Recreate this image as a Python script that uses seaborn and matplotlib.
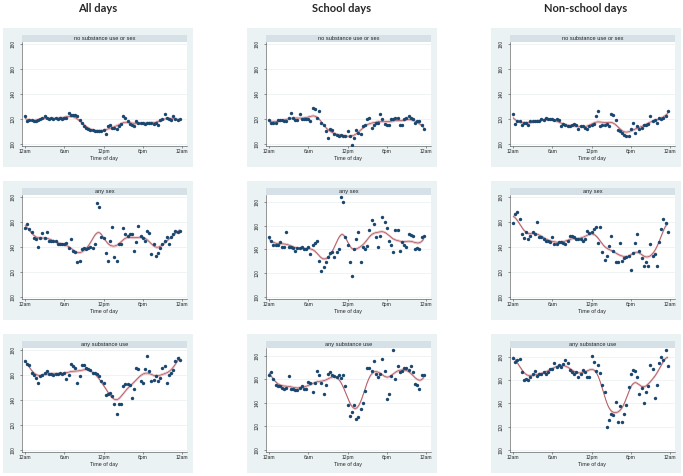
import matplotlib
matplotlib.use("Agg")
import matplotlib.pyplot as plt
from matplotlib.patches import Rectangle
import numpy as np
import seaborn as sns

# heart rate readings, three per hour (12am, 12:20am, 12:40am, ...)
all_none = [122, 118, 119, 119, 118, 118, 119, 120, 121, 122, 121, 120,
            121, 120, 121, 120, 121, 120, 121, 121, 125, 123, 123, 123,
            122, 119, 117, 114, 113, 112, 111, 111, 110, 110, 110, 110,
            111, 108, 114, 115, 113, 113, 112, 114, 116, 122, 121, 118,
            116, 115, 114, 118, 117, 117, 117, 116, 117, 117, 117, 116,
            117, 115, 119, 120, 124, 121, 120, 119, 122, 120, 119, 120]
school_none = [119, 117, 117, 117, 119, 119, 119, 118, 118, 121, 125, 121,
               119, 119, 124, 120, 120, 120, 120, 118, 129, 128, 121, 126,
               117, 115, 110, 105, 112, 111, 108, 107, 106, 107, 106, 106,
               110, 106, 99, 105, 111, 109, 108, 114, 115, 120, 121, 113,
               115, 117, 117, 124, 120, 116, 115, 115, 120, 120, 121, 121,
               115, 115, 120, 121, 122, 121, 120, 117, 118, 118, 115, 112]
nonschool_none = [124, 116, 118, 118, 115, 117, 117, 115, 118, 118, 118, 118,
                  118, 120, 119, 121, 120, 120, 120, 119, 120, 119, 114, 116,
                  115, 114, 114, 115, 116, 115, 112, 114, 114, 113, 112, 114,
                  115, 116, 122, 126, 114, 115, 115, 116, 114, 124, 123, 119,
                  111, 110, 109, 107, 106, 106, 112, 117, 109, 114, 112, 113,
                  115, 115, 116, 122, 118, 119, 117, 121, 120, 121, 122, 126]

all_sex = [155, 158, 154, 152, 147, 146, 140, 147, 151, 147, 152, 145,
           145, 145, 145, 142, 142, 142, 142, 143, 139, 146, 137, 136,
           128, 129, 138, 139, 138, 139, 140, 139, 142, 175, 172, 148,
           147, 135, 129, 145, 156, 132, 129, 142, 142, 155, 150, 149,
           150, 150, 137, 144, 157, 149, 147, 145, 153, 151, 134, 142,
           133, 135, 139, 142, 145, 148, 142, 148, 150, 153, 152, 153]
school_sex = [150, 147, 144, 144, 144, 146, 142, 142, 155, 142, 142, 141,
              139, 141, 141, 142, 140, 140, 142, 136, 144, 145, 147, 130,
              122, 125, 129, 134, 137, 138, 134, 138, 140, 184, 180, 150,
              144, 129, 118, 140, 149, 155, 129, 142, 140, 143, 156, 165,
              161, 150, 142, 151, 167, 163, 158, 147, 144, 138, 156, 156,
              139, 146, 144, 142, 153, 152, 151, 140, 141, 140, 150, 151]
nonschool_sex = [159, 166, 168, 162, 150, 147, 152, 146, 149, 152, 150, 160,
                 148, 148, 146, 145, 145, 144, 148, 142, 142, 144, 144, 143,
                 142, 145, 149, 149, 148, 146, 146, 146, 145, 146, 153, 151,
                 152, 154, 156, 143, 156, 136, 130, 133, 141, 149, 137, 128,
                 128, 143, 129, 131, 132, 133, 122, 135, 143, 150, 137, 131,
                 125, 128, 125, 142, 133, 134, 125, 144, 154, 162, 159, 152]

all_sub = [171, 169, 168, 162, 160, 158, 154, 159, 160, 162, 163, 161,
           161, 160, 161, 161, 162, 161, 162, 157, 160, 169, 167, 166,
           154, 159, 168, 168, 166, 165, 164, 162, 162, 161, 159, 155,
           154, 144, 145, 146, 143, 137, 129, 137, 137, 151, 153, 153,
           152, 142, 149, 166, 165, 155, 154, 165, 175, 163, 155, 156,
           159, 155, 158, 166, 167, 154, 160, 162, 164, 171, 174, 172]
school_sub = [164, 166, 160, 155, 154, 154, 153, 152, 153, 163, 152, 152,
              151, 151, 153, 154, 152, 152, 158, 157, 149, 157, 167, 164,
              157, 148, 155, 165, 166, 164, 163, 162, 164, 161, 164, 154,
              138, 129, 132, 138, 126, 128, 135, 140, 150, 170, 170, 167,
              176, 165, 162, 165, 177, 167, 143, 148, 163, 185, 160, 171,
              166, 167, 170, 170, 168, 171, 166, 156, 155, 152, 164, 164]
nonschool_sub = [179, 176, 177, 178, 167, 160, 161, 160, 163, 165, 168, 164,
                 165, 165, 167, 165, 167, 170, 170, 175, 171, 173, 171, 174,
                 177, 175, 169, 167, 165, 167, 163, 165, 169, 167, 163, 163,
                 181, 176, 168, 173, 166, 156, 150, 120, 126, 131, 130, 141,
                 124, 138, 124, 131, 139, 154, 165, 169, 168, 163, 148, 153,
                 140, 150, 155, 173, 170, 145, 156, 175, 180, 177, 186, 172]

col_titles = ["All days", "School days", "Non-school days"]
row_titles = ["no substance use or sex", "any sex", "any substance use"]
x_ticks = [0, 6, 12, 18, 24]
x_labels = ["12am", "6am", "12pm", "6pm", "12am"]
y_ticks = [100, 120, 140, 160, 180]

panels = [[all_none, school_none, nonschool_none],
          [all_sex, school_sex, nonschool_sex],
          [all_sub, school_sub, nonschool_sub]]

W, H = 683, 476
NAVY = "#1a476f"
BOX_X = [3, 247, 491]
BOX_Y = [28, 181, 334]


def smooth(x, y, grid, bw=0.85):
    # local linear fit with a gaussian kernel
    out = []
    for g in grid:
        w = np.exp(-0.5 * ((x - g) / bw) ** 2)
        X = np.column_stack([np.ones_like(x), x - g])
        A = X.T * w
        out.append(np.linalg.solve(A @ X, A @ y)[0])
    return np.array(out)


sns.set_theme(style="white")
plt.rcParams["font.family"] = ["Liberation Sans", "DejaVu Sans"]

fig = plt.figure(figsize=(W / 100, H / 100), dpi=100)
hours = np.arange(72) / 3
grid = np.linspace(0, hours[-1], 300)

for j, title in enumerate(col_titles):
    fig.text((BOX_X[j] + 95) / W, 1 - 8 / H, title, ha="center", va="center",
             fontsize=8, fontweight="bold", family="Lato")
    for i, label in enumerate(row_titles):
        x0, y0 = BOX_X[j], BOX_Y[i]
        vals = np.array(panels[i][j], dtype=float)

        fig.patches.append(Rectangle((x0 / W, 1 - (y0 + 139) / H), 190 / W, 139 / H,
                                     transform=fig.transFigure, facecolor="#eaf2f3",
                                     edgecolor="none", zorder=-2))
        fig.patches.append(Rectangle(((x0 + 19) / W, 1 - (y0 + 14) / H), 165 / W, 7 / H,
                                     transform=fig.transFigure, facecolor="#d5e1e6",
                                     edgecolor="none", zorder=-1))
        fig.text((x0 + 101.5) / W, 1 - (y0 + 10.5) / H, label, ha="center",
                 va="center", fontsize=4.1, color="#222222")

        ax = fig.add_axes([(x0 + 19) / W, 1 - (y0 + 118) / H, 165 / W, 104 / H])
        ax.set_facecolor("white")

        fit = smooth(hours, vals, grid)
        ax.fill_between(grid, fit - 0.8, fit + 0.8, color="#f3d9db", lw=0, zorder=2)
        ax.plot(grid, fit - 0.8, color="#dca3a8", lw=0.3, zorder=2)
        ax.plot(grid, fit + 0.8, color="#dca3a8", lw=0.3, zorder=2)
        sns.lineplot(x=grid, y=fit, ax=ax, color="#9e3a46", lw=0.45, zorder=3)
        sns.scatterplot(x=hours, y=vals, ax=ax, color=NAVY, s=6, linewidth=0, zorder=4)

        top = max(180, vals.max())
        pad = 0.02 * (top - 100)
        ax.set_ylim(100 - pad, top + pad)
        ax.set_xlim(-0.46, 24.76)

        ax.set_xticks(x_ticks, x_labels)
        ax.set_yticks(y_ticks)
        ax.set_yticklabels([str(t) for t in y_ticks], rotation=90, va="center")
        ax.tick_params(axis="x", length=1.5, width=0.4, pad=1, labelsize=3.6,
                       bottom=True, color="#444444")
        ax.tick_params(axis="y", length=1.5, width=0.4, pad=3, labelsize=3.4,
                       left=True, color="#444444")
        ax.set_xlabel("Time of day", fontsize=3.9, labelpad=1.2)
        ax.set_ylabel("")
        ax.yaxis.grid(True, color="#e4eaed", lw=0.4)
        ax.set_axisbelow(True)
        for side in ["top", "right"]:
            ax.spines[side].set_visible(False)
        for side in ["left", "bottom"]:
            ax.spines[side].set_color("#444444")
            ax.spines[side].set_linewidth(0.4)

fig.savefig("out.png", dpi=100)
